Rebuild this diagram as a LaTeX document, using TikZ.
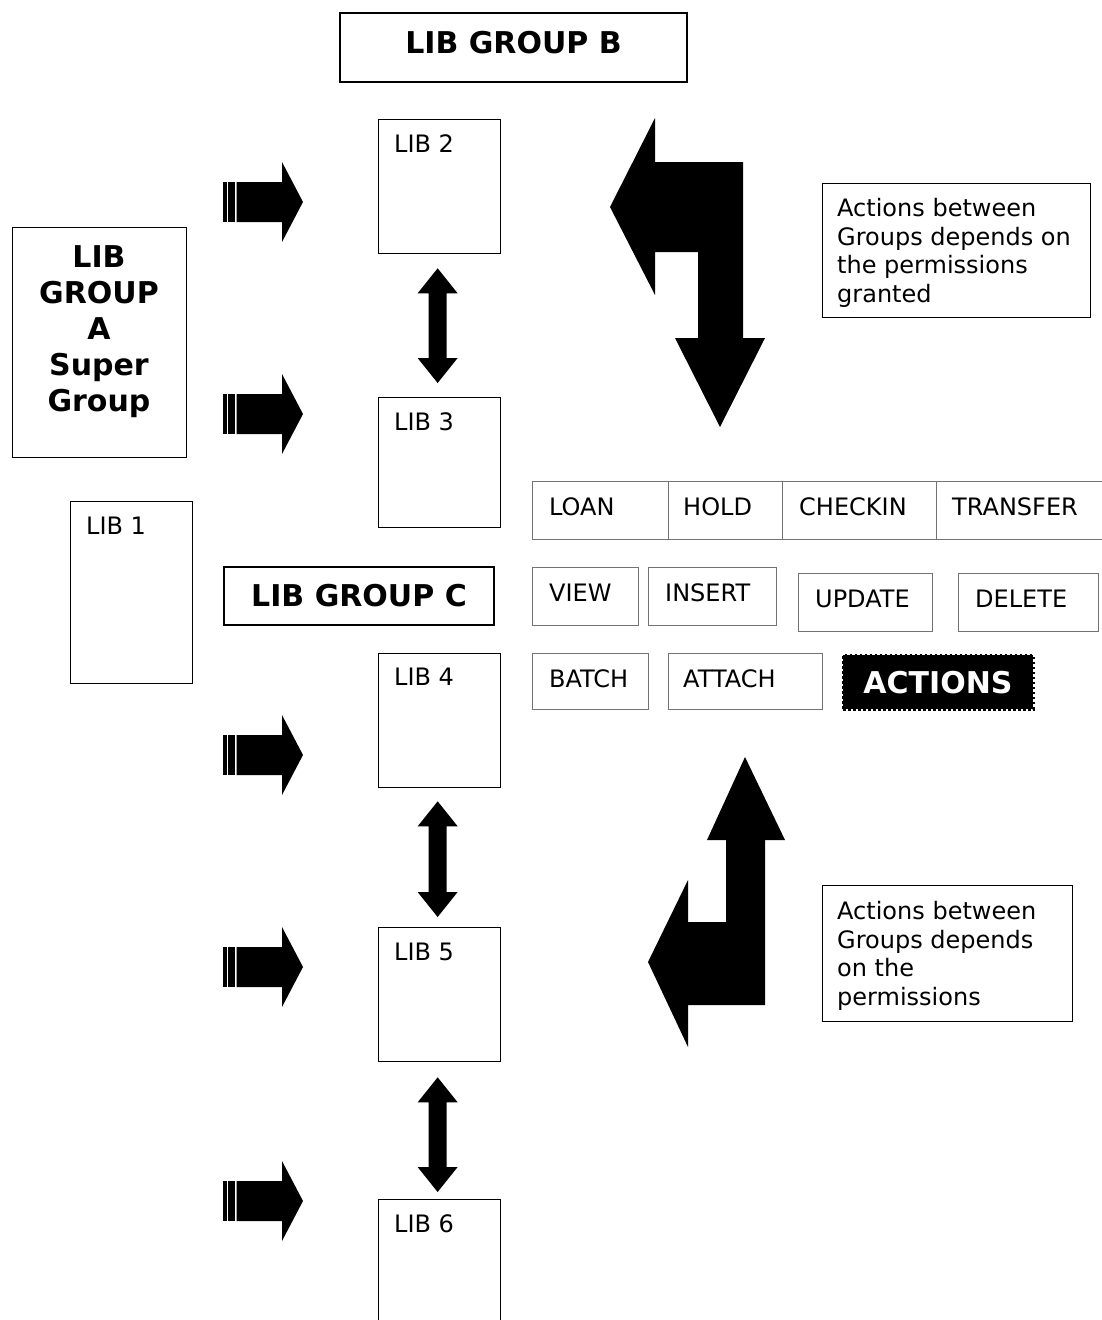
\documentclass[tikz,border=0pt]{standalone}
\usepackage{fontspec}
\setmainfont{DejaVu Sans}
\usetikzlibrary{calc}
\newcommand\dblarrow[4]{%
  \fill let \p1=($(#1)+(-2,#3)$), \p2=($(#2)+(-2,-#4)$) in
    (\x1,\y1) -- (\x1+20pt,\y1-25pt) -- (\x1+9pt,\y1-25pt) -- (\x1+9pt,\y2+25pt)
    -- (\x1+20pt,\y2+25pt) -- (\x1,\y2) -- (\x1-20pt,\y2+25pt) -- (\x1-9pt,\y2+25pt)
    -- (\x1-9pt,\y1-25pt) -- (\x1-20pt,\y1-25pt) -- cycle;}
\begin{document}
\begin{tikzpicture}[x=1pt,y=-1pt,
  txt/.style={font=\fontsize{24}{28.7}\selectfont, inner sep=0pt},
  btxt/.style={font=\fontsize{30}{36}\selectfont\bfseries, inner sep=0pt},
  libbox/.style={draw=black, line width=1.3pt, anchor=north west, minimum width=122pt, inner sep=0pt},
  cell/.style={draw=black!55, line width=1.3pt, anchor=north west, inner sep=0pt},
  celltxt/.style={txt, anchor=base west},
  groupbox/.style={draw=black, line width=1.3pt, btxt},
  notebox/.style={draw=black, line width=1.3pt, anchor=north west, inner sep=0pt},
  notetxt/.style={txt, anchor=north west, align=left},
  stripearrow/.pic={
    \fill (-79.7,-20) rectangle (-76.3,20);
    \fill (-74.7,-20) rectangle (-68,20);
    \fill (-66.3,-20) -- (-21,-20) -- (-21,-40) -- (0,0) -- (-21,40) -- (-21,20) -- (-66.3,20) -- cycle;
  }
]
\fill[white] (0,0) rectangle (1101,1320);
\useasboundingbox (0,0) rectangle (1101,1320);

% groups
\node[groupbox, minimum width=347pt, minimum height=69pt, text height=22pt, text depth=11pt] (groupB) at (513.5,47.5) {LIB GROUP B};
\node[groupbox, minimum width=270pt, minimum height=58pt] (groupC) at (359,596) {LIB GROUP C};
\node[draw=black, line width=1.3pt, anchor=north west, minimum width=174pt, minimum height=230pt, inner sep=0pt] (groupA) at (12,227) {};
\node[btxt, anchor=north, align=center] (groupAtxt) at (99,245) {LIB\\GROUP\\A\\Super\\Group};

% libs
\node[libbox, minimum height=182pt] (lib1) at (70,501) {};
\node[libbox, minimum height=134pt] (lib2) at (378,119) {};
\node[libbox, minimum height=130pt] (lib3) at (378,397) {};
\node[libbox, minimum height=134pt] (lib4) at (378,653) {};
\node[libbox, minimum height=134pt] (lib5) at (378,927) {};
\node[libbox, minimum height=150pt] (lib6) at (378,1199) {};
\node[celltxt] (t1) at ($(lib1.north west)+(16,33)$) {LIB 1};
\node[celltxt] (t2) at ($(lib2.north west)+(16,33)$) {LIB 2};
\node[celltxt] (t3) at ($(lib3.north west)+(16,33)$) {LIB 3};
\node[celltxt] (t4) at ($(lib4.north west)+(16,32)$) {LIB 4};
\node[celltxt] (t5) at ($(lib5.north west)+(16,33)$) {LIB 5};
\node[celltxt] (t6) at ($(lib6.north west)+(16,33)$) {LIB 6};

% double arrows
\dblarrow{lib2.south}{lib3.north}{14}{14}
\dblarrow{lib4.south}{lib5.north}{13}{10}
\dblarrow{lib5.south}{lib6.north}{15}{7}

% striped arrows
\pic at (303,202) {stripearrow};
\pic at (303,414) {stripearrow};
\pic at (303,755) {stripearrow};
\pic at (303,967) {stripearrow};
\pic at (303,1201) {stripearrow};

% actions cells
\node[cell, minimum width=136pt, minimum height=58pt] (loan) at (532,481) {};
\node[cell, minimum width=114pt, minimum height=58pt] (hold) at (668,481) {};
\node[cell, minimum width=154pt, minimum height=58pt] (checkin) at (782,481) {};
\node[cell, minimum width=180pt, minimum height=58pt] (transfer) at (936,481) {};
\node[cell, minimum width=106pt, minimum height=58pt] (view) at (532,567) {};
\node[cell, minimum width=128pt, minimum height=58pt] (insert) at (648,567) {};
\node[cell, minimum width=134pt, minimum height=58pt] (update) at (798,573) {};
\node[cell, minimum width=140pt, minimum height=58pt] (delete) at (958,573) {};
\node[cell, minimum width=116pt, minimum height=56pt] (batch) at (532,653) {};
\node[cell, minimum width=154pt, minimum height=56pt] (attach) at (668,653) {};
\node[celltxt] at ($(loan.north west)+(17,34)$) {LOAN};
\node[celltxt] at ($(hold.north west)+(15,34)$) {HOLD};
\node[celltxt] at ($(checkin.north west)+(17,34)$) {CHECKIN};
\node[celltxt] at ($(transfer.north west)+(16,34)$) {TRANSFER};
\node[celltxt] at ($(view.north west)+(17,34)$) {VIEW};
\node[celltxt] at ($(insert.north west)+(17,34)$) {INSERT};
\node[celltxt] at ($(update.north west)+(17,34)$) {UPDATE};
\node[celltxt] at ($(delete.north west)+(17,34)$) {DELETE};
\node[celltxt] at ($(batch.north west)+(17,34)$) {BATCH};
\node[celltxt] at ($(attach.north west)+(15,34)$) {ATTACH};
\node[fill=black, draw=black, line width=3pt, dash pattern=on 2.5pt off 2.5pt,
      minimum width=190pt, minimum height=54pt, btxt, text=white,
      text height=22pt, text depth=0pt] (actions) at (938,682) {ACTIONS};

% bent arrows
\fill (610,207) -- (655,118) -- (655,162) -- (743,162) -- (743,338) -- (765,338)
  -- (720,427) -- (675,338) -- (698,338) -- (698,252) -- (655,252) -- (655,295) -- cycle;
\fill (745,757) -- (785,840) -- (765,840) -- (765,1005) -- (688,1005) -- (688,1047)
  -- (648,962) -- (688,880) -- (688,922) -- (726,922) -- (726,840) -- (707,840) -- cycle;

% notes
\node[notebox, minimum width=268pt, minimum height=134pt] (note1) at (822,183) {};
\node[notetxt] (note1txt) at (837,198) {Actions between\\Groups depends on\\the permissions\\granted};
\node[notebox, minimum width=250pt, minimum height=136pt] (note2) at (822,885) {};
\node[notetxt] (note2txt) at (837,901) {Actions between\\Groups depends\\on the\\permissions};
\end{tikzpicture}
\end{document}
